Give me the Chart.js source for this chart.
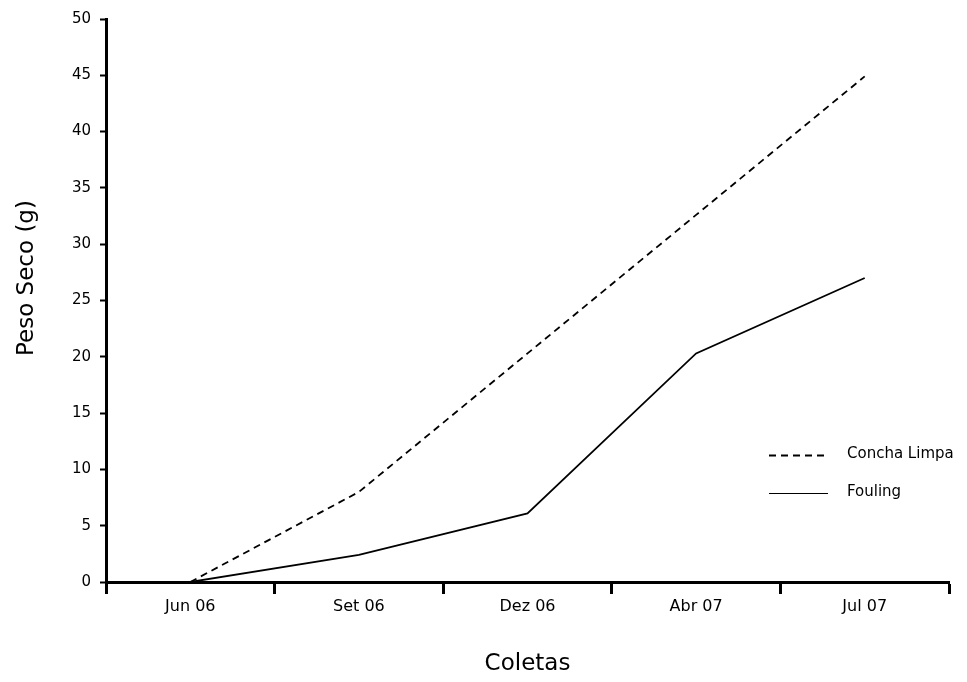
<!DOCTYPE html>
<html>
<head>
<meta charset="utf-8">
<script src="https://cdn.jsdelivr.net/npm/chart.js@4"></script>
<style>
  html, body { margin: 0; padding: 0; background: #fff; }
  #wrap { width: 967px; height: 682px; }
</style>
</head>
<body>
<div id="wrap"><canvas id="myChart" width="967" height="682"></canvas></div>
<script>
const coletas = ['Jun 06', 'Set 06', 'Dez 06', 'Abr 07', 'Jul 07'];
const conchaLimpa = [0, 8.0, 20.3, 32.6, 44.9];
const fouling = [0, 2.4, 6.1, 20.3, 27.0];
const yTicks = [0, 5, 10, 15, 20, 25, 30, 35, 40, 45, 50];

const FONT = "'DejaVu Sans', sans-serif";

// legend inside the plot (bottom right) + y title placed a bit above centre
const extras = {
    id: 'extras',
    afterDraw(chart) {
        const c = chart.ctx;
        const items = chart.data.datasets;
        c.save();
        c.font = '15px ' + FONT;
        c.fillStyle = '#000';
        c.textBaseline = 'middle';
        items.forEach((ds, i) => {
            const y = 455.5 + i * 38;
            c.beginPath();
            c.strokeStyle = '#000';
            c.lineWidth = ds.borderDash ? 2 : 1;
            c.setLineDash(ds.borderDash || []);
            c.moveTo(769, y);
            c.lineTo(828, y);
            c.stroke();
            c.setLineDash([]);
            c.fillText(ds.label, 847, y - 1);
        });

        c.translate(27, 278);
        c.rotate(-Math.PI / 2);
        c.font = '23px ' + FONT;
        c.textAlign = 'center';
        c.fillText('Peso Seco (g)', 0, 0);
        c.restore();
    }
};

const ctx = document.getElementById('myChart').getContext('2d');

new Chart(ctx, {
    type: 'line',
    data: {
        labels: coletas,
        datasets: [
            {
                label: 'Concha Limpa',
                data: conchaLimpa,
                borderColor: '#000',
                borderWidth: 1.8,
                borderDash: [7, 5],
                pointRadius: 0,
                tension: 0
            },
            {
                label: 'Fouling',
                data: fouling,
                borderColor: '#000',
                borderWidth: 1.8,
                pointRadius: 0,
                tension: 0
            }
        ]
    },
    options: {
        responsive: false,
        animation: false,
        layout: { padding: { top: 19, right: 18, left: 0, bottom: 0 } },
        plugins: {
            legend: { display: false },
            tooltip: { enabled: false }
        },
        scales: {
            x: {
                offset: true,
                grid: {
                    offset: true,
                    drawOnChartArea: false,
                    tickLength: 12,
                    tickWidth: 3,
                    color: '#000'
                },
                border: { color: '#000', width: 3 },
                ticks: {
                    color: '#000',
                    font: { family: FONT, size: 16 },
                    padding: 3,
                    maxRotation: 0
                },
                title: {
                    display: true,
                    text: 'Coletas',
                    color: '#000',
                    font: { family: FONT, size: 23 },
                    padding: { top: 22 }
                },
                afterFit(scale) { scale.height = 100; }
            },
            y: {
                min: 0,
                max: 50,
                afterBuildTicks(scale) {
                    scale.ticks = yTicks.map(v => ({ value: v }));
                },
                grid: {
                    drawOnChartArea: false,
                    tickLength: 6,
                    tickWidth: 2,
                    color: '#000'
                },
                border: { color: '#000', width: 3 },
                ticks: {
                    color: '#000',
                    font: { family: FONT, size: 15 },
                    padding: 9
                },
                afterFit(scale) { scale.width = 106; }
            }
        }
    },
    plugins: [extras]
});
</script>
</body>
</html>
